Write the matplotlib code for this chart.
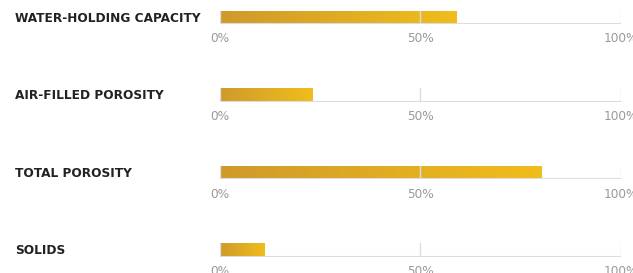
import numpy as np
import matplotlib.pyplot as plt
from matplotlib.colors import LinearSegmentedColormap

categories = ["WATER-HOLDING CAPACITY", "AIR-FILLED POROSITY", "TOTAL POROSITY", "SOLIDS"]
values = [59, 23, 80, 11]
ticks = [0, 50, 100]
tick_labels = ["0%", "50%", "100%"]

W, H = 633, 273
fig = plt.figure(figsize=(W / 100, H / 100), dpi=100)

cmap = LinearSegmentedColormap.from_list("gold", ["#cf9a2b", "#f0bd1c"])
grad = np.linspace(0, 1, 256).reshape(1, -1)

x0, x1 = 219.5, 621
step = 77.6
for i, (cat, val) in enumerate(zip(categories, values)):
    top = 10.5 + step * i
    bot = 24 + step * i
    ax = fig.add_axes([x0 / W, 1 - bot / H, (x1 - x0) / W, (bot - top) / H])
    ax.set_xlim(0, 100)
    ax.set_ylim(0, 1)
    bar = ax.barh(0.5, val, height=1, color="none", edgecolor="none")[0]
    img = ax.imshow(grad, cmap=cmap, extent=(0, val, 0, 1), aspect="auto", zorder=2)
    img.set_clip_path(bar)
    for t in ticks:
        ax.axvline(t, color="#dcdcdc", lw=1, zorder=3)
    ax.axhline(0, color="#dcdcdc", lw=1.5, zorder=3)
    for s in ax.spines.values():
        s.set_visible(False)
    ax.set_yticks([])
    ax.set_xticks(ticks)
    ax.set_xticklabels(tick_labels, color="#999999", fontsize=8.7)
    ax.tick_params(axis="x", length=0, pad=6)
    fig.text(15 / W, 1 - (top + bot) / 2 / H - 0.003, cat, fontsize=9.7, fontweight="bold",
             family="DejaVu Sans", stretch="condensed", color="#222222", va="center")

fig.savefig("out.png", dpi=100)
